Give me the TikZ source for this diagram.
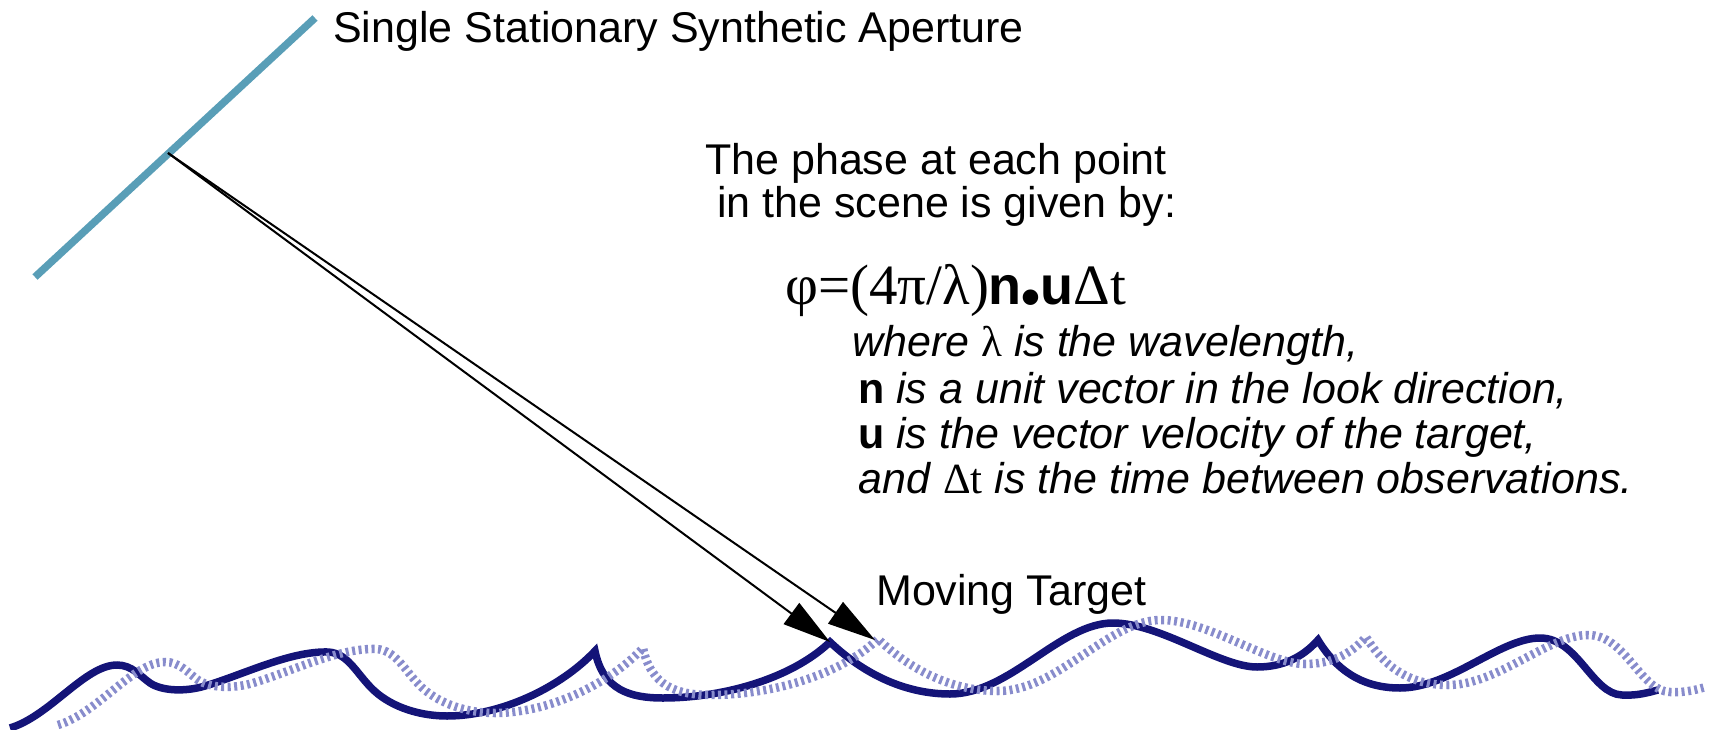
\documentclass[tikz,border=0pt]{standalone}
\usepackage{fontspec}
\setmainfont{Liberation Sans}
\newfontfamily\tms{Liberation Serif}
\usetikzlibrary{arrows.meta}
\definecolor{apcol}{RGB}{89,158,183}
\definecolor{wavenavy}{RGB}{20,20,120}
\definecolor{waveperi}{RGB}{136,140,204}
\newcommand{\wavepath}{(10,728) .. controls (50,716) and (85,665) .. (117,665)
 .. controls (132,665) and (140,676) .. (150,683)
 .. controls (162,691) and (185,692) .. (205,686)
 .. controls (245,674) and (290,651) .. (328,652)
 .. controls (350,653) and (358,678) .. (378,694)
 .. controls (398,710) and (425,716) .. (447,716)
 .. controls (500,716) and (560,688) .. (595,651)
 .. controls (603,690) and (630,698) .. (663,698)
 .. controls (720,698) and (790,680) .. (830,642)
 .. controls (868,678) and (910,694) .. (950,694)
 .. controls (1010,694) and (1060,623) .. (1113,623)
 .. controls (1160,623) and (1220,667) .. (1257,667)
 .. controls (1282,667) and (1302,658) .. (1318,640)
 .. controls (1335,668) and (1360,688) .. (1400,688)
 .. controls (1450,688) and (1500,638) .. (1540,638)
 .. controls (1578,638) and (1592,694) .. (1622,695)
 .. controls (1638,696) and (1650,692) .. (1658,690)}
\begin{document}
\begin{tikzpicture}[x=1pt,y=-1pt,
  lbl/.style={anchor=base west, inner sep=0pt, font=\fontsize{43}{50}\selectfont},
  itl/.style={anchor=base west, inner sep=0pt, font=\fontsize{43}{50}\selectfont},
  ray/.style={line width=2pt, -{Triangle[length=48pt,width=26pt]}},
  aperturebar/.style={apcol, line width=7.5pt},
  solidwave/.style={wavenavy, line width=7.5pt},
  dotwave/.style={waveperi, line width=8.5pt, dash pattern=on 3pt off 3.5pt}]
\useasboundingbox (0,0) rectangle (1712,730);
% aperture
\coordinate (apA) at (35,277);
\coordinate (apB) at (315,18);
\coordinate (src) at (168,153);
\draw[aperturebar] (apA) -- (apB);
% waves
\draw[solidwave] \wavepath;
\draw[dotwave, shift={(48,-3)}] \wavepath;
% rays
\coordinate (tipA) at (830,642);
\coordinate (tipB) at (875,640);
\draw[ray] (src) -- (tipA);
\draw[ray] (src) -- (tipB);
% texts
\node[lbl] (title) at (333,43) {Single Stationary Synthetic Aperture};
\node[lbl] (phase1) at (705,175) {The phase at each point};
\node[lbl] (phase2) at (717,217) {in the scene is given by:};
\node[anchor=base west, inner sep=0pt] (eq) at (785,304)
  {{\fontsize{57}{64}\selectfont\tms φ=(4π/λ)}{\fontsize{54}{64}\selectfont\bfseries n\raisebox{-0.22em}{•}u}{\fontsize{57}{64}\selectfont\tms Δt}};
\node[itl] (w1) at (852,356) {\textit{where} {\tms λ} \textit{is the wavelength,}};
\node[itl] (w2) at (858,403) {\textbf{n} \textit{is a unit vector in the look direction,}};
\node[itl] (w3) at (858,448) {\textbf{u} \textit{is the vector velocity of the target,}};
\node[itl] (w4) at (858,493) {\textit{and} {\tms Δt} \textit{is the time between observations.}};
\node[itl] (mt) at (876,605) {Moving Target};
\end{tikzpicture}
\end{document}
